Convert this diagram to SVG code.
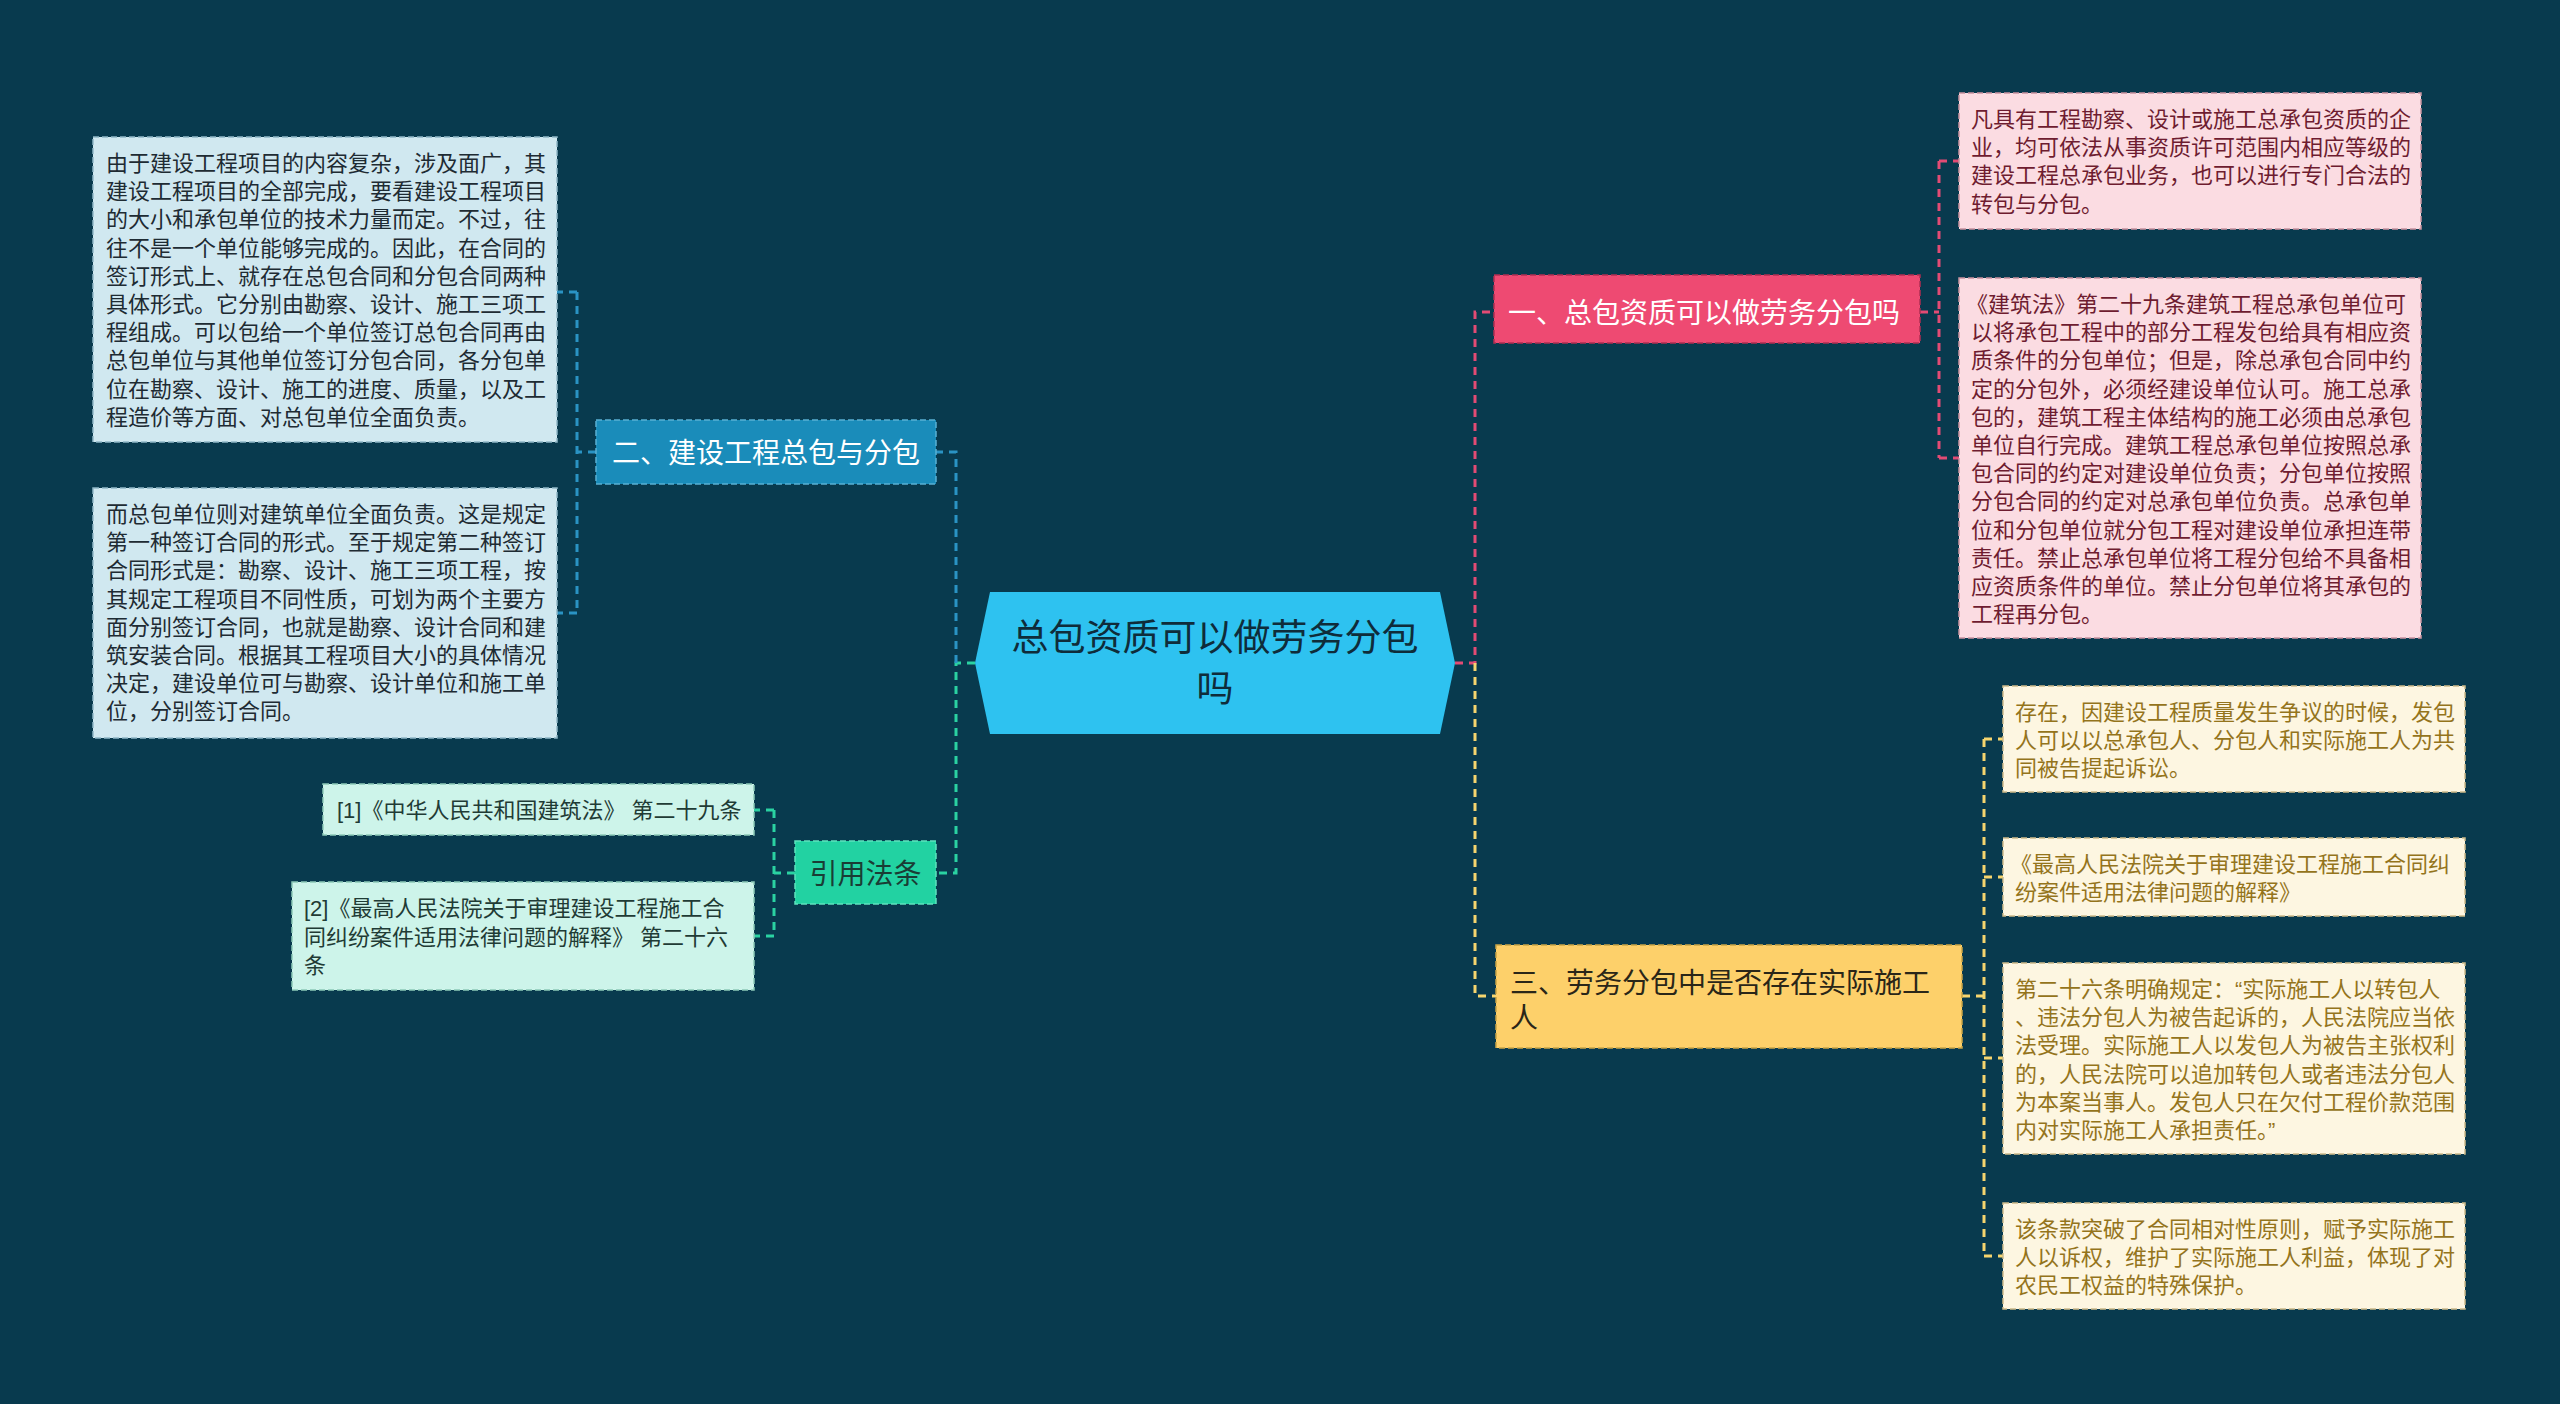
<svg xmlns="http://www.w3.org/2000/svg" width="2560" height="1404" viewBox="0 0 2560 1404">
<style>
text{font-family:"Liberation Sans","Noto Sans CJK SC",sans-serif;}
.conn{fill:none;stroke-width:3;stroke-dasharray:8 6;}
.cb{stroke:#2a93c4;}
.cg{stroke:#2ad2a2;}
.cp{stroke:#e24b74;}
.cy{stroke:#f6d56e;}
.t22{font-size:22px;}
.t28{font-size:28px;}
.bx{stroke-width:1.5;stroke-dasharray:6 3;}
.lblue{fill:#d0e8f0;stroke:#8fb7c6;}
.lmint{fill:#cdf4ea;stroke:#8cc9b8;}
.lpink{fill:#fbdce2;stroke:#c993a0;}
.lyel{fill:#fdf6e1;stroke:#cdbb8a;}
.tdark{fill:#1e2b33;}
.tmint{fill:#1f3b35;}
.tpink{fill:#6e1c30;}
.tyel{fill:#94741c;}
</style>
<rect width="2560" height="1404" fill="#083a4e"/>

<g id="connectors">
  <!-- center to left bus -->
  <path class="conn cg" d="M975,663 H956 V873 H936"/>
  <path class="conn cb" d="M956,663 V452 H936"/>
  <!-- center to right bus -->
  <path class="conn cp" d="M1455,663 H1475 V312 H1494"/>
  <path class="conn cy" d="M1475,663 V996 H1496"/>
  <!-- node 二 children -->
  <path class="conn cb" d="M596,452 H577 M577,292 V613 M577,292 H557 M577,613 H557"/>
  <!-- 引用法条 children -->
  <path class="conn cg" d="M795,873 H774 M774,810 V936 M774,810 H754 M774,936 H754"/>
  <!-- node 一 children -->
  <path class="conn cp" d="M1920,312 H1939 M1939,161 V458 M1939,161 H1959 M1939,458 H1959"/>
  <!-- node 三 children -->
  <path class="conn cy" d="M1962,996 H1984 M1984,739 V1256 M1984,739 H2003 M1984,877 H2003 M1984,1058 H2003 M1984,1256 H2003"/>
</g>

<g id="center">
  <polygon points="990,592 1440,592 1455,663 1440,734 990,734 975,663" fill="#2ec2f0"/>
  <text x="1215" y="651" font-size="37" fill="#0f2c3a" text-anchor="middle">总包资质可以做劳务分包</text>
  <text x="1215" y="702" font-size="37" fill="#0f2c3a" text-anchor="middle">吗</text>
</g>

<g id="node-er">
  <rect x="596" y="420" width="340" height="64" fill="#1a8cba" stroke="#58b0d4" class="bx"/>
  <text x="612" y="463" class="t28" fill="#ffffff">二、建设工程总包与分包</text>
</g>

<g id="node-yinyong">
  <rect x="795" y="841" width="141" height="63" fill="#22d2a2" stroke="#5ee2bd" class="bx"/>
  <text x="865.5" y="884" class="t28" fill="#1a3d35" text-anchor="middle">引用法条</text>
</g>

<g id="node-yi">
  <rect x="1494" y="275" width="426" height="68" fill="#ee4a72" stroke="#b02e52" class="bx"/>
  <text x="1508" y="323" class="t28" fill="#ffffff">一、总包资质可以做劳务分包吗</text>
</g>

<g id="node-san">
  <rect x="1496" y="945" width="466" height="103" fill="#fdd06a" stroke="#c8a446" class="bx"/>
  <text class="t28" fill="#2a2618"><tspan x="1510" y="993">三、劳务分包中是否存在实际施工</tspan><tspan x="1510" y="1028">人</tspan></text>
</g>

<g id="left-box-1">
  <rect x="93" y="137" width="464" height="305" class="bx lblue"/>
  <text class="t22 tdark">
    <tspan x="106" y="171">由于建设工程项目的内容复杂，涉及面广，其</tspan>
    <tspan x="106" y="199.2">建设工程项目的全部完成，要看建设工程项目</tspan>
    <tspan x="106" y="227.4">的大小和承包单位的技术力量而定。不过，往</tspan>
    <tspan x="106" y="255.6">往不是一个单位能够完成的。因此，在合同的</tspan>
    <tspan x="106" y="283.8">签订形式上、就存在总包合同和分包合同两种</tspan>
    <tspan x="106" y="312">具体形式。它分别由勘察、设计、施工三项工</tspan>
    <tspan x="106" y="340.2">程组成。可以包给一个单位签订总包合同再由</tspan>
    <tspan x="106" y="368.4">总包单位与其他单位签订分包合同，各分包单</tspan>
    <tspan x="106" y="396.6">位在勘察、设计、施工的进度、质量，以及工</tspan>
    <tspan x="106" y="424.8">程造价等方面、对总包单位全面负责。</tspan>
  </text>
</g>

<g id="left-box-2">
  <rect x="93" y="488" width="464" height="250" class="bx lblue"/>
  <text class="t22 tdark">
    <tspan x="106" y="522">而总包单位则对建筑单位全面负责。这是规定</tspan>
    <tspan x="106" y="550.2">第一种签订合同的形式。至于规定第二种签订</tspan>
    <tspan x="106" y="578.4">合同形式是：勘察、设计、施工三项工程，按</tspan>
    <tspan x="106" y="606.6">其规定工程项目不同性质，可划为两个主要方</tspan>
    <tspan x="106" y="634.8">面分别签订合同，也就是勘察、设计合同和建</tspan>
    <tspan x="106" y="663">筑安装合同。根据其工程项目大小的具体情况</tspan>
    <tspan x="106" y="691.2">决定，建设单位可与勘察、设计单位和施工单</tspan>
    <tspan x="106" y="719.4">位，分别签订合同。</tspan>
  </text>
</g>

<g id="law-1">
  <rect x="323" y="784" width="431" height="51" class="bx lmint"/>
  <text x="337" y="818" class="t22 tmint">[1]《中华人民共和国建筑法》 第二十九条</text>
</g>

<g id="law-2">
  <rect x="292" y="882" width="462" height="108" class="bx lmint"/>
  <text class="t22 tmint">
    <tspan x="304" y="916">[2]《最高人民法院关于审理建设工程施工合</tspan>
    <tspan x="304" y="944.5">同纠纷案件适用法律问题的解释》 第二十六</tspan>
    <tspan x="304" y="973">条</tspan>
  </text>
</g>

<g id="pink-box-1">
  <rect x="1959" y="93" width="462" height="136" class="bx lpink"/>
  <text class="t22 tpink">
    <tspan x="1971" y="127">凡具有工程勘察、设计或施工总承包资质的企</tspan>
    <tspan x="1971" y="155.2">业，均可依法从事资质许可范围内相应等级的</tspan>
    <tspan x="1971" y="183.4">建设工程总承包业务，也可以进行专门合法的</tspan>
    <tspan x="1971" y="211.6">转包与分包。</tspan>
  </text>
</g>

<g id="pink-box-2">
  <rect x="1959" y="278" width="462" height="360" class="bx lpink"/>
  <text class="t22 tpink">
    <tspan x="1966" y="312">《建筑法》第二十九条建筑工程总承包单位可</tspan>
    <tspan x="1971" y="340.2">以将承包工程中的部分工程发包给具有相应资</tspan>
    <tspan x="1971" y="368.4">质条件的分包单位；但是，除总承包合同中约</tspan>
    <tspan x="1971" y="396.6">定的分包外，必须经建设单位认可。施工总承</tspan>
    <tspan x="1971" y="424.8">包的，建筑工程主体结构的施工必须由总承包</tspan>
    <tspan x="1971" y="453">单位自行完成。建筑工程总承包单位按照总承</tspan>
    <tspan x="1971" y="481.2">包合同的约定对建设单位负责；分包单位按照</tspan>
    <tspan x="1971" y="509.4">分包合同的约定对总承包单位负责。总承包单</tspan>
    <tspan x="1971" y="537.6">位和分包单位就分包工程对建设单位承担连带</tspan>
    <tspan x="1971" y="565.8">责任。禁止总承包单位将工程分包给不具备相</tspan>
    <tspan x="1971" y="594">应资质条件的单位。禁止分包单位将其承包的</tspan>
    <tspan x="1971" y="622.2">工程再分包。</tspan>
  </text>
</g>

<g id="yellow-box-1">
  <rect x="2003" y="686" width="462" height="106" class="bx lyel"/>
  <text class="t22 tyel">
    <tspan x="2015" y="720">存在，因建设工程质量发生争议的时候，发包</tspan>
    <tspan x="2015" y="748.2">人可以以总承包人、分包人和实际施工人为共</tspan>
    <tspan x="2015" y="776.4">同被告提起诉讼。</tspan>
  </text>
</g>

<g id="yellow-box-2">
  <rect x="2003" y="838" width="462" height="78" class="bx lyel"/>
  <text class="t22 tyel">
    <tspan x="2010" y="872">《最高人民法院关于审理建设工程施工合同纠</tspan>
    <tspan x="2015" y="900.2">纷案件适用法律问题的解释》</tspan>
  </text>
</g>

<g id="yellow-box-3">
  <rect x="2003" y="963" width="462" height="191" class="bx lyel"/>
  <text class="t22 tyel">
    <tspan x="2015" y="997">第二十六条明确规定：“实际施工人以转包人</tspan>
    <tspan x="2015" y="1025.2">、违法分包人为被告起诉的，人民法院应当依</tspan>
    <tspan x="2015" y="1053.4">法受理。实际施工人以发包人为被告主张权利</tspan>
    <tspan x="2015" y="1081.6">的，人民法院可以追加转包人或者违法分包人</tspan>
    <tspan x="2015" y="1109.8">为本案当事人。发包人只在欠付工程价款范围</tspan>
    <tspan x="2015" y="1138">内对实际施工人承担责任。”</tspan>
  </text>
</g>

<g id="yellow-box-4">
  <rect x="2003" y="1203" width="462" height="106" class="bx lyel"/>
  <text class="t22 tyel">
    <tspan x="2015" y="1237">该条款突破了合同相对性原则，赋予实际施工</tspan>
    <tspan x="2015" y="1265.2">人以诉权，维护了实际施工人利益，体现了对</tspan>
    <tspan x="2015" y="1293.4">农民工权益的特殊保护。</tspan>
  </text>
</g>
</svg>
